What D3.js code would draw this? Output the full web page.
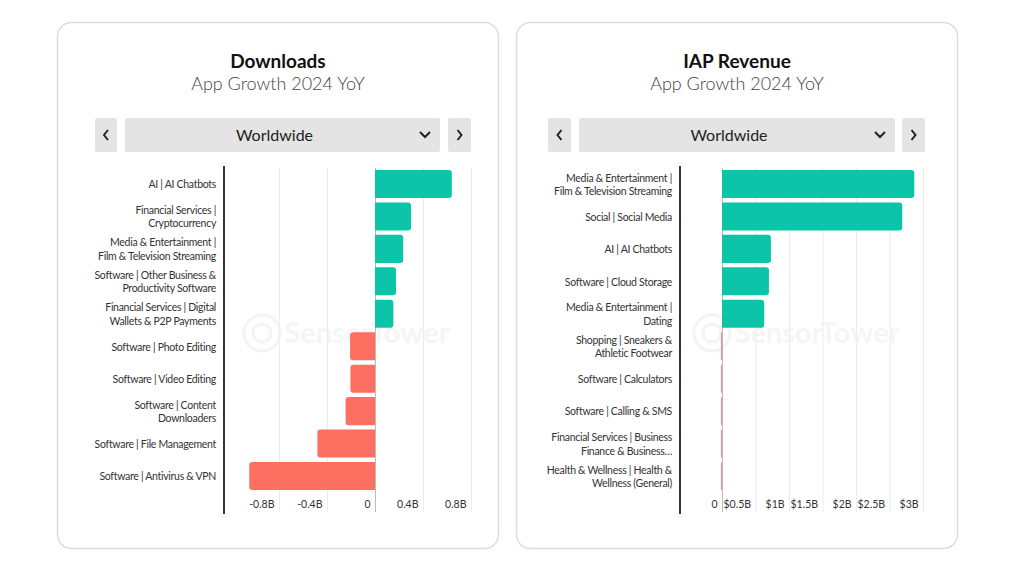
<!DOCTYPE html>
<html><head><meta charset="utf-8">
<script src="https://cdn.jsdelivr.net/npm/d3@7"></script>
<style>
html,body{margin:0;padding:0;background:#fff;}
svg{display:block;font-family:Lato,"Open Sans",sans-serif;}
</style></head>
<body>
<svg id="c" width="1024" height="576"></svg>
<script>
// ---------- DATA ----------
const dlCategories = [
  "AI | AI Chatbots",
  "Financial Services |\nCryptocurrency",
  "Media & Entertainment |\nFilm & Television Streaming",
  "Software | Other Business &\nProductivity Software",
  "Financial Services | Digital\nWallets & P2P Payments",
  "Software | Photo Editing",
  "Software | Video Editing",
  "Software | Content\nDownloaders",
  "Software | File Management",
  "Software | Antivirus & VPN"
];
const dlValues = [0.64, 0.30, 0.235, 0.175, 0.153, -0.208, -0.205, -0.245, -0.48, -1.048];
const dlTickValues = [-0.8, -0.4, 0, 0.4, 0.8];
const dlTickLabels = ["-0.8B", "-0.4B", "0", "0.4B", "0.8B"];

const revCategories = [
  "Media & Entertainment |\nFilm & Television Streaming",
  "Social | Social Media",
  "AI | AI Chatbots",
  "Software | Cloud Storage",
  "Media & Entertainment |\nDating",
  "Shopping | Sneakers &\nAthletic Footwear",
  "Software | Calculators",
  "Software | Calling & SMS",
  "Financial Services | Business\nFinance & Business…",
  "Health & Wellness | Health &\nWellness (General)"
];
const revValues = [2.87, 2.69, 0.73, 0.70, 0.63, -0.012, -0.012, -0.012, -0.012, -0.012];
const revTickValues = [0, 0.5, 1, 1.5, 2, 2.5, 3];
const revTickLabels = ["0", "$0.5B", "$1B", "$1.5B", "$2B", "$2.5B", "$3B"];

const titles = ["Downloads", "IAP Revenue"];
const subtitle = "App Growth 2024 YoY";
const region = "Worldwide";

// ---------- STYLE ----------
const POS = "#0cc5a8", NEG = "#fd6f61";
const svg = d3.select("#c");

function panel(px, title) {
  const g = svg.append("g").attr("transform", `translate(${px},0)`);
  g.append("rect").attr("x", 0.5).attr("y", 22.5).attr("width", 441).attr("height", 526)
    .attr("rx", 14).attr("fill", "#fff").attr("stroke", "#dedede").attr("stroke-width", 1.5);
  g.append("text").attr("x", 221).attr("y", 68).attr("text-anchor", "middle")
    .attr("font-size", 19).attr("font-weight", 700).attr("fill", "#111").text(title);
  g.append("text").attr("x", 221).attr("y", 90).attr("text-anchor", "middle")
    .attr("font-size", 18).attr("font-weight", 300).attr("fill", "#444").text(subtitle);
  return g;
}

function dropdown(g, o) {
  g.append("rect").attr("x", o.l0).attr("y", 118).attr("width", o.l1 - o.l0).attr("height", 34).attr("rx", 2).attr("fill", "#e4e4e4");
  g.append("rect").attr("x", o.m0).attr("y", 118).attr("width", o.m1 - o.m0).attr("height", 34).attr("rx", 2).attr("fill", "#e4e4e4");
  g.append("rect").attr("x", o.r0).attr("y", 118).attr("width", o.r1 - o.r0).attr("height", 34).attr("rx", 2).attr("fill", "#e4e4e4");
  const lc = (o.l0 + o.l1) / 2, rc = (o.r0 + o.r1) / 2;
  g.append("path").attr("d", `M${lc + 2},${130} L${lc - 2},${135} L${lc + 2},${140}`).attr("fill", "none").attr("stroke", "#222").attr("stroke-width", 2);
  g.append("path").attr("d", `M${rc - 2},${130} L${rc + 2},${135} L${rc - 2},${140}`).attr("fill", "none").attr("stroke", "#222").attr("stroke-width", 2);
  const cx = o.m1 - 15;
  g.append("path").attr("d", `M${cx - 5},${132} L${cx},${137} L${cx + 5},${132}`).attr("fill", "none").attr("stroke", "#222").attr("stroke-width", 2);
  g.append("text").attr("x", (o.m0 + o.m1) / 2 - 8).attr("y", 141).attr("text-anchor", "middle")
    .attr("font-size", 16).attr("fill", "#222").text(region);
}

function watermark(g, cx) {
  const w = g.append("g").attr("opacity", 0.04).attr("fill", "none").attr("stroke", "#000");
  w.append("circle").attr("cx", cx - 93).attr("cy", 333).attr("r", 18).attr("stroke-width", 3);
  w.append("circle").attr("cx", cx - 93).attr("cy", 333).attr("r", 9).attr("stroke-width", 3);
  g.append("text").attr("x", cx + 12).attr("y", 343).attr("text-anchor", "middle")
    .attr("font-size", 29).attr("font-weight", 700).attr("fill", "#000").attr("opacity", 0.035).text("SensorTower");
}

function barChart(g, cfg) {
  const y = d3.scaleBand().domain(cfg.cats).range([168, 492]).paddingInner(0.135).paddingOuter(0.06);
  const x = d3.scaleLinear().domain(cfg.domain).range(cfg.range);
  const ax = d3.axisBottom(x).tickValues(cfg.ticks).tickFormat((d, i) => cfg.tickLabels[i])
    .tickSize(-(512 - 168)).tickPadding(0);
  const axg = g.append("g").attr("transform", "translate(0,512)").call(ax);
  axg.select(".domain").remove();
  axg.selectAll(".tick line").attr("stroke", (d) => d === 0 ? "#bbb" : "#ececec").attr("stroke-width", 1);
  axg.selectAll(".tick text").attr("text-anchor", "end").attr("dx", -5).attr("y", -11)
    .attr("font-size", 10.5).attr("fill", "#333").attr("font-family", "Lato,sans-serif");
  const r = 3;
  g.selectAll(".bar").data(cfg.vals).enter().append("path")
    .attr("fill", (d) => d >= 0 ? POS : NEG)
    .attr("d", (d, i) => {
      const y0 = y(cfg.cats[i]), h = y.bandwidth();
      const x0 = x(0), x1 = x(d);
      const w = Math.abs(x1 - x0);
      const rr = Math.min(r, w / 2);
      if (d >= 0) {
        return `M${x0},${y0} H${x1 - rr} Q${x1},${y0} ${x1},${y0 + rr} V${y0 + h - rr} Q${x1},${y0 + h} ${x1 - rr},${y0 + h} H${x0} Z`;
      } else {
        return `M${x0},${y0} H${x1 + rr} Q${x1},${y0} ${x1},${y0 + rr} V${y0 + h - rr} Q${x1},${y0 + h} ${x1 + rr},${y0 + h} H${x0} Z`;
      }
    });
  g.append("line").attr("x1", cfg.range[0]).attr("x2", cfg.range[0]).attr("y1", 166).attr("y2", 514)
    .attr("stroke", "#333").attr("stroke-width", 2);
  cfg.cats.forEach((c, i) => {
    const lines = c.split("\n");
    const cy = y(c) + y.bandwidth() / 2;
    const t = g.append("text").attr("text-anchor", "end").attr("font-size", 10.5)
      .attr("letter-spacing", -0.3).attr("fill", "#333");
    lines.forEach((ln, j) => {
      t.append("tspan").attr("x", cfg.range[0] - 8)
        .attr("y", cy + 4.3 + (j - (lines.length - 1) / 2) * 13.5).text(ln);
    });
  });
}

const gL = panel(57, titles[0]);
dropdown(gL, {l0: 38, l1: 60, m0: 68, m1: 383, r0: 391, r1: 414});
watermark(gL, 298);
barChart(gL, {cats: dlCategories, vals: dlValues, ticks: dlTickValues, tickLabels: dlTickLabels,
  domain: [-1.2583, 0.9583], range: [167, 433]});

const gR = panel(516, titles[1]);
dropdown(gR, {l0: 32, l1: 55, m0: 63, m1: 379, r0: 386, r1: 409});
watermark(gR, 289);
barChart(gR, {cats: revCategories, vals: revValues, ticks: revTickValues, tickLabels: revTickLabels,
  domain: [-0.627, 3.104], range: [164, 414]});
</script>
</body></html>
